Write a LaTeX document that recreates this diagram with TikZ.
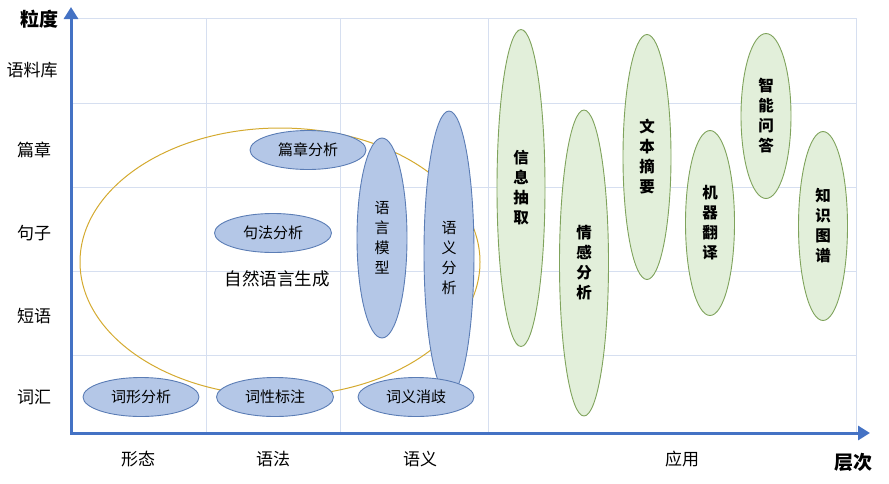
\documentclass[tikz,border=0pt]{standalone}
\usepackage{fontspec}
\setmainfont{Noto Sans CJK SC}
\usetikzlibrary{shapes.geometric,arrows.meta}
\definecolor{gridc}{HTML}{D6DFF0}
\definecolor{axisc}{HTML}{4472C4}
\definecolor{bluef}{HTML}{B4C7E7}
\definecolor{blued}{HTML}{5B7DB5}
\definecolor{greenf}{HTML}{E2EFDA}
\definecolor{greend}{HTML}{7FA35C}
\definecolor{goldc}{HTML}{D4AA30}
\begin{document}
\begin{tikzpicture}[x=1pt,y=-1pt,
  gridline/.style={draw=gridc, line width=1pt},
  axisline/.style={draw=axisc, line width=3pt, {Triangle[width=14pt,length=12pt]}-{Triangle[width=14pt,length=12pt]}},
  blueell/.style={ellipse, draw=blued, fill=bluef, line width=0.9pt, inner sep=0pt, align=center, font=\fontsize{15}{20}\selectfont},
  greenell/.style={ellipse, draw=greend, fill=greenf, line width=0.9pt, inner sep=0pt, align=center, font=\fontsize{15.5}{20}\selectfont\bfseries},
  ylab/.style={font=\fontsize{17}{20}\selectfont, inner sep=0pt},
  xlab/.style={font=\fontsize{17}{20}\selectfont, inner sep=0pt},
  axtitle/.style={font=\fontsize{19}{22}\selectfont\bfseries, inner sep=0pt},
]
\useasboundingbox (0,0) rectangle (889,483);
% grid
\foreach \yy in {18,103,187,271,355} \draw[gridline] (71,\yy) -- (856,\yy);
\foreach \xx in {206,340,488,856} \draw[gridline] (\xx,18) -- (\xx,433);
% axes
\coordinate (ytip) at (71,7);
\coordinate (orig) at (71,433);
\coordinate (xtip) at (870,433);
\draw[axisline] (ytip) -- (orig) -- (xtip);
% axis labels
\node[axtitle] (yt) at (39,19) {粒度};
\node[axtitle] (xt) at (853,462) {层次};
\node[ylab] (y1) at (32,70) {语料库};
\node[ylab] (y2) at (34,150) {篇章};
\node[ylab] (y3) at (34,233) {句子};
\node[ylab] (y4) at (34,316) {短语};
\node[ylab] (y5) at (34,397) {词汇};
\node[xlab] (x1) at (138,459) {形态};
\node[xlab] (x2) at (273,459) {语法};
\node[xlab] (x3) at (420,459) {语义};
\node[xlab] (x4) at (682,459) {应用};
% natural language generation
\node[ellipse, draw=goldc, line width=1pt, minimum width=400pt, minimum height=268pt, inner sep=0pt] (nlg) at (280,262) {};
\node[font=\fontsize{17.5}{20}\selectfont, inner sep=0pt] (nlgl) at (277,279) {自然语言生成};
% blue ellipses
\node[blueell, minimum width=116pt, minimum height=39pt] (cxfx) at (141,397) {词形分析};
\node[blueell, minimum width=117pt, minimum height=39pt] (cxbz) at (275,397) {词性标注};
\node[blueell, minimum width=116pt, minimum height=39pt] (pzfx) at (308,150) {篇章分析};
\node[blueell, minimum width=117pt, minimum height=39pt] (jffx) at (273,233) {句法分析};
\node[blueell, minimum width=50pt, minimum height=200pt] (yymx) at (382,238) {语\\言\\模\\型};
\node[blueell, minimum width=50pt, minimum height=284pt] (yyfx) at (449,253) {};
\node[inner sep=0pt, align=center, font=\fontsize{15}{20}\selectfont] (yyfxt) at (449,258) {语\\义\\分\\析};
\node[blueell, minimum width=116pt, minimum height=39pt] (cyxq) at (416,397) {词义消歧};
% green ellipses
\node[greenell, minimum width=48pt, minimum height=317pt] (xxcq) at (521,188) {信\\息\\抽\\取};
\node[greenell, minimum width=49pt, minimum height=306pt] (qgfx) at (584,263) {情\\感\\分\\析};
\node[greenell, minimum width=48pt, minimum height=245pt] (wbzy) at (647,157) {文\\本\\摘\\要};
\node[greenell, minimum width=49pt, minimum height=185pt] (jqfy) at (710,223) {机\\器\\翻\\译};
\node[greenell, minimum width=50pt, minimum height=165pt] (znwd) at (766,116) {智\\能\\问\\答};
\node[greenell, minimum width=49pt, minimum height=189pt] (zstp) at (823,226) {知\\识\\图\\谱};
\end{tikzpicture}
\end{document}
